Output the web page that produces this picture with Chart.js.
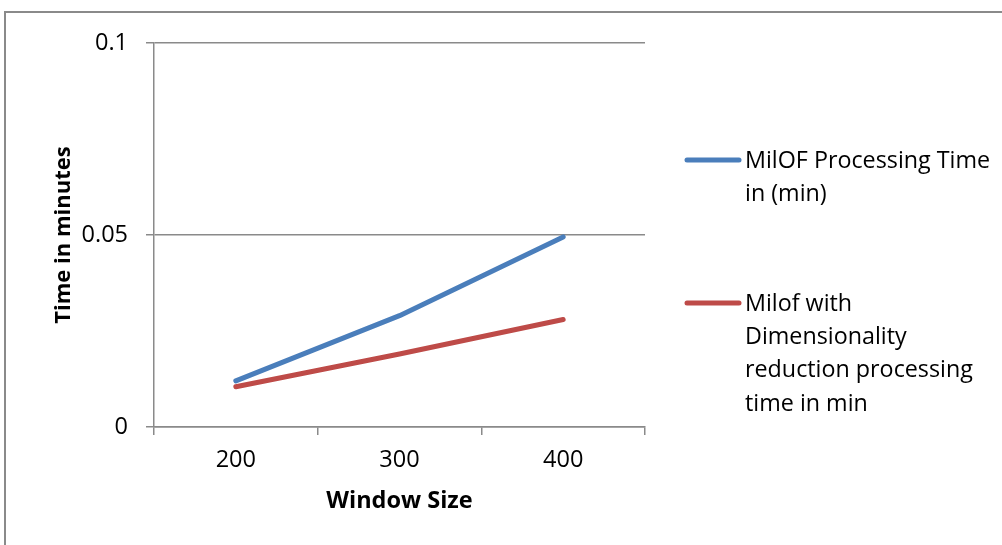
<!DOCTYPE html>
<html>
<head>
<meta charset="utf-8">
<script src="https://cdn.jsdelivr.net/npm/chart.js@4/dist/chart.umd.min.js"></script>
<style>
  html, body { margin: 0; padding: 0; background: #ffffff; overflow: hidden; }
  #wrap { position: relative; width: 1002px; height: 545px; }
  #frame { position: absolute; left: 4px; top: 11px; width: 1100px; height: 700px;
           border-left: 2px solid #8a8a8a; border-top: 2px solid #8a8a8a; box-sizing: border-box; }
  canvas { position: absolute; left: 0; top: 0; }
</style>
</head>
<body>
<div id="wrap">
  <div id="frame"></div>
  <canvas id="c" width="1002" height="545"></canvas>
</div>
<script>
const categories = ['200', '300', '400'];
const milofTime = [0.012, 0.029, 0.0495];
const milofDRTime = [0.0105, 0.019, 0.028];
const seriesNames = [
  'MilOF Processing Time in (min)',
  'Milof with Dimensionality reduction processing time in min'
];
const legendLines = [
  ['MilOF Processing Time', 'in (min)'],
  ['Milof with', 'Dimensionality', 'reduction processing', 'time in min']
];
const yTickLabels = ['0', '0.05', '0.1'];
const xTitle = 'Window Size';
const yTitle = 'Time in minutes';

const FONT = '"Open Sans", "Noto Sans", sans-serif';
const GRID = '#8a8a8a';

const legendPlugin = {
  id: 'sideLegend',
  afterDraw(chart) {
    const ctx = chart.ctx;
    const starts = [160, 303];
    ctx.save();
    chart.data.datasets.forEach((ds, i) => {
      const y0 = starts[i];
      ctx.strokeStyle = ds.borderColor;
      ctx.lineWidth = 5;
      ctx.lineCap = 'round';
      ctx.beginPath();
      ctx.moveTo(687, y0);
      ctx.lineTo(739, y0);
      ctx.stroke();
      ctx.fillStyle = '#000000';
      ctx.font = '23.3px ' + FONT;
      ctx.textBaseline = 'middle';
      ctx.textAlign = 'left';
      legendLines[i].forEach((t, k) => {
        ctx.fillText(t, 745, y0 + 1 + k * 33.3);
      });
    });
    ctx.restore();
  }
};

new Chart(document.getElementById('c'), {
  type: 'line',
  data: {
    labels: categories,
    datasets: [
      { label: seriesNames[0], data: milofTime, borderColor: '#4A7EBB', backgroundColor: '#4A7EBB',
        borderWidth: 5, pointRadius: 0, tension: 0, borderCapStyle: 'round', borderJoinStyle: 'round' },
      { label: seriesNames[1], data: milofDRTime, borderColor: '#BE4B48', backgroundColor: '#BE4B48',
        borderWidth: 5, pointRadius: 0, tension: 0, borderCapStyle: 'round', borderJoinStyle: 'round' }
    ]
  },
  options: {
    responsive: false,
    animation: false,
    layout: { padding: { top: 43, right: 357, left: 0, bottom: 0 } },
    plugins: { legend: { display: false }, tooltip: { enabled: false } },
    scales: {
      x: {
        type: 'category',
        offset: true,
        grid: { display: true, drawOnChartArea: false, drawTicks: true, tickLength: 8, offset: true,
                color: GRID, lineWidth: 1.5 },
        border: { display: true, color: GRID, width: 1.5 },
        ticks: { color: '#000', font: { family: FONT, size: 23.5 }, padding: 11, maxRotation: 0 },
        title: { display: true, text: xTitle, color: '#000',
                 font: { family: FONT, size: 23.5, weight: 'bold', lineHeight: 1.2 },
                 padding: { top: 0, bottom: 30 } },
        afterFit(s) { s.height = 118; }
      },
      y: {
        min: 0, max: 0.1,
        afterBuildTicks(s) { s.ticks = [0, 0.05, 0.1].map(v => ({ value: v })); },
        grid: { display: true, drawTicks: true, tickLength: 8, color: GRID, lineWidth: 1.5 },
        border: { display: true, color: GRID, width: 1.5 },
        ticks: { color: '#000', font: { family: FONT, size: 23.5 }, padding: 18,
                 callback: (v, i) => yTickLabels[i] },
        title: { display: true, text: yTitle, color: '#000',
                 font: { family: FONT, size: 22, weight: 'bold', lineHeight: 1.2 },
                 padding: { top: 51, bottom: 0 } },
        afterFit(s) { s.width = 154; }
      }
    }
  },
  plugins: [legendPlugin]
});
</script>
</body>
</html>
